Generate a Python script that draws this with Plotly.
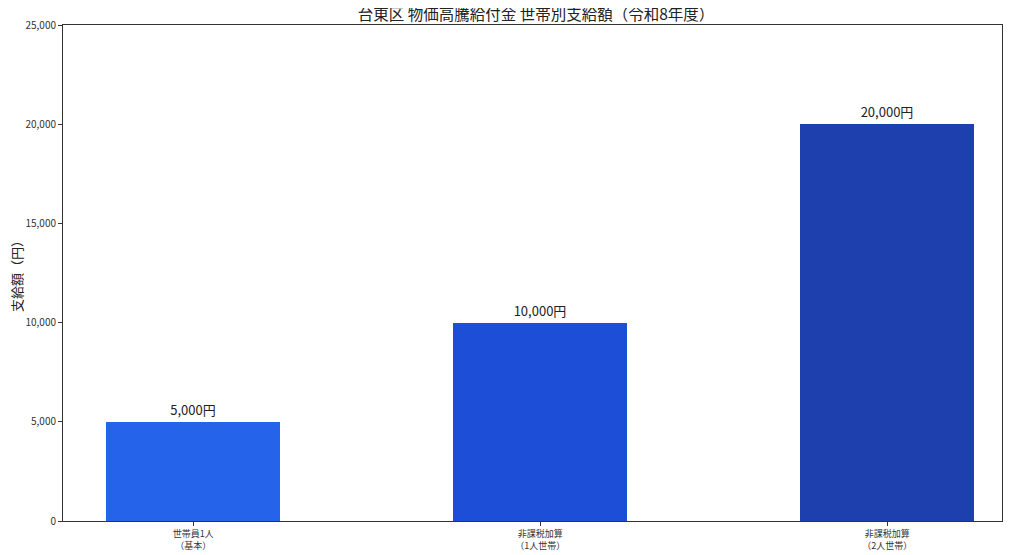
import plotly.graph_objects as go

# 世帯別の支給額
categories = ["世帯員1人<br>（基本）", "非課税加算<br>（1人世帯）", "非課税加算<br>（2人世帯）"]
amounts = [5000, 10000, 20000]
bar_colors = ["#2563eb", "#1d4ed8", "#1e40af"]
labels = [f"{v:,}円" for v in amounts]

FONT = "Noto Sans CJK JP"

fig = go.Figure()
fig.add_trace(
    go.Bar(
        x=list(range(len(categories))),
        y=amounts,
        width=0.5,
        marker=dict(color=bar_colors, line=dict(width=0)),
        text=labels,
        textposition="outside",
        textfont=dict(size=13, color="#222", family=FONT),
        cliponaxis=False,
        showlegend=False,
    )
)

fig.update_layout(
    width=1024,
    height=555,
    paper_bgcolor="white",
    plot_bgcolor="white",
    font=dict(family=FONT, color="#333"),
    title=dict(
        text="台東区 物価高騰給付金 世帯別支給額（令和8年度）",
        x=0.5156, xanchor="center", y=0.989, yanchor="middle",
        font=dict(size=15.5, color="#222"),
    ),
    margin=dict(l=55, r=30, t=17, b=42),
    bargap=0,
)

# y軸タイトル（位置合わせのため注釈で配置）
fig.add_annotation(
    text="支給額（円）", textangle=-90,
    xref="paper", yref="paper", x=0, y=0.5,
    xanchor="center", yanchor="middle", xshift=-47,
    showarrow=False, font=dict(size=13, color="#222"),
)

fig.update_xaxes(
    tickmode="array",
    tickvals=list(range(len(categories))),
    ticktext=categories,
    range=[-0.375, 2.331],
    showgrid=False,
    zeroline=False,
    showline=True, mirror=True, linecolor="#333", linewidth=1,
    ticks="outside", ticklen=4, tickcolor="#333",
    tickfont=dict(size=9, color="#333"),
    automargin=False,
)
fig.update_yaxes(
    range=[0, 25000],
    dtick=5000,
    tickformat=",d",
    showgrid=False,
    zeroline=False,
    showline=True, mirror=True, linecolor="#333", linewidth=1,
    ticks="outside", ticklen=4, tickcolor="#333",
    tickfont=dict(size=10, color="#333"),
    automargin=False,
)

fig.write_html("out.html")
